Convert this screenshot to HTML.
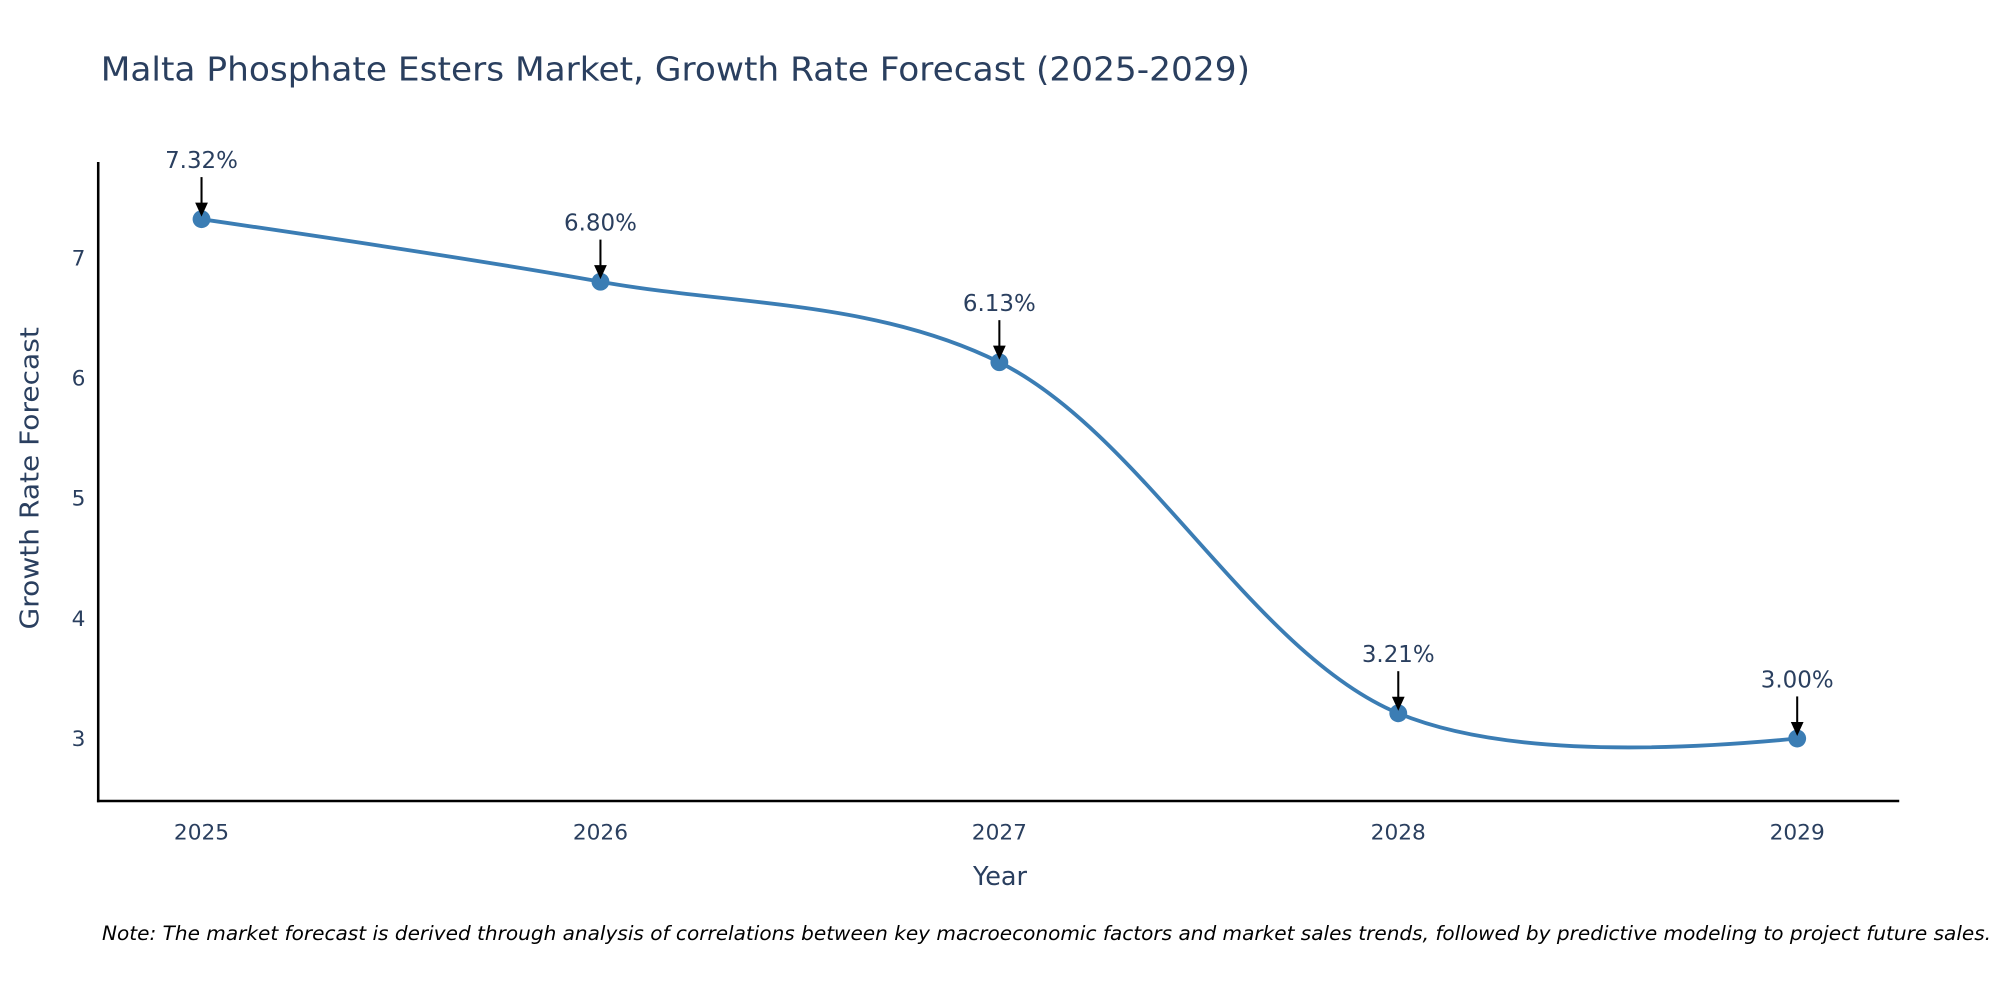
<!DOCTYPE html>
<html><head><meta charset="utf-8"><style>
html,body{margin:0;padding:0;background:#fff;}
svg{display:block;font-family:"DejaVu Sans","Liberation Sans",sans-serif;}
</style></head><body>
<svg id="chart" width="2000" height="1000" viewBox="0 0 1568 784">
<rect width="1568" height="784" fill="#fff"/>
<text x="79" y="63" font-size="26" fill="#2a3f5f" textLength="901" lengthAdjust="spacingAndGlyphs">Malta Phosphate Esters Market, Growth Rate Forecast (2025-2029)</text>
<g id="yticks"></g>
<g id="xticks"></g>
<line x1="77" y1="127" x2="77" y2="629" stroke="#000" stroke-width="2"/>
<line x1="76" y1="628" x2="1489" y2="628" stroke="#000" stroke-width="2"/>
<text x="784" y="694" font-size="20" fill="#2a3f5f" text-anchor="middle">Year</text>
<text transform="translate(30,375) rotate(-90)" font-size="20" fill="#2a3f5f" text-anchor="middle" textLength="237" lengthAdjust="spacingAndGlyphs">Growth Rate Forecast</text>
<path id="line" fill="none" stroke="#3b7db4" stroke-width="3"/>
<g id="marks"></g>
<text x="80" y="737" font-size="15" font-style="italic" fill="#000" textLength="1481" lengthAdjust="spacingAndGlyphs">Note: The market forecast is derived through analysis of correlations between key macroeconomic factors and market sales trends, followed by predictive modeling to project future sales.</text>
</svg>
<script>
const years = ["2025","2026","2027","2028","2029"];
const values = [7.32, 6.80, 6.13, 3.21, 3.00];
const labels = ["7.32%","6.80%","6.13%","3.21%","3.00%"];
const yTicks = [3,4,5,6,7];
const NS="http://www.w3.org/2000/svg";
function xs(i){return 158 + i*(1409-158)/4;}
function ys(v){return 579 - (v-3)*(579-202)/4;}
function mk(tag,attrs,parent){const e=document.createElementNS(NS,tag);for(const k in attrs)e.setAttribute(k,attrs[k]);parent.appendChild(e);return e;}
const yt=document.getElementById('yticks');
yTicks.forEach(t=>{const e=mk('text',{x:67,y:ys(t)+6,'font-size':17,fill:'#2a3f5f','text-anchor':'end'},yt);e.textContent=t;

});
const xt=document.getElementById('xticks');
years.forEach((y,i)=>{const e=mk('text',{x:xs(i),y:658,'font-size':17,fill:'#2a3f5f','text-anchor':'middle'},xt);e.textContent=y;

});
const pts=values.map((v,i)=>[xs(i),ys(v)]);
function tang(p0,p1,p2,s){const d1x=p0[0]-p1[0],d1y=p0[1]-p1[1],d2x=p2[0]-p1[0],d2y=p2[1]-p1[1];
const d1a=Math.pow(d1x*d1x+d1y*d1y,0.25),d2a=Math.pow(d2x*d2x+d2y*d2y,0.25);
const nx=(d2a*d2a*d1x-d1a*d1a*d2x)*s,ny=(d2a*d2a*d1y-d1a*d1a*d2y)*s;
const a=3*d2a*(d1a+d2a),b=3*d1a*(d1a+d2a);
return [[p1[0]+nx/a,p1[1]+ny/a],[p1[0]-nx/b,p1[1]-ny/b]];}
const tg=[];for(let i=1;i<pts.length-1;i++)tg.push(tang(pts[i-1],pts[i],pts[i+1],1));
let d='M'+pts[0]+'Q'+tg[0][0]+' '+pts[1];
for(let i=2;i<pts.length-1;i++)d+='C'+tg[i-2][1]+' '+tg[i-1][0]+' '+pts[i];
d+='Q'+tg[pts.length-3][1]+' '+pts[pts.length-1];
document.getElementById('line').setAttribute('d',d);
const g=document.getElementById('marks');
pts.forEach((p,i)=>{
const c=mk('circle',{cx:p[0],cy:p[1],r:7,fill:'#3b7db4'},g);


const l=mk('line',{x1:p[0],y1:p[1]-33,x2:p[0],y2:p[1]-10,stroke:'#000','stroke-width':1.6},g);


const h=mk('path',{d:`M${p[0]-5},${p[1]-13}L${p[0]+5},${p[1]-13}L${p[0]},${p[1]-2}Z`,fill:'#000'},g);


const t=mk('text',{x:p[0],y:p[1]-40,'font-size':18,fill:'#2a3f5f','text-anchor':'middle'},g);t.textContent=labels[i];


});
</script>
</body></html>
